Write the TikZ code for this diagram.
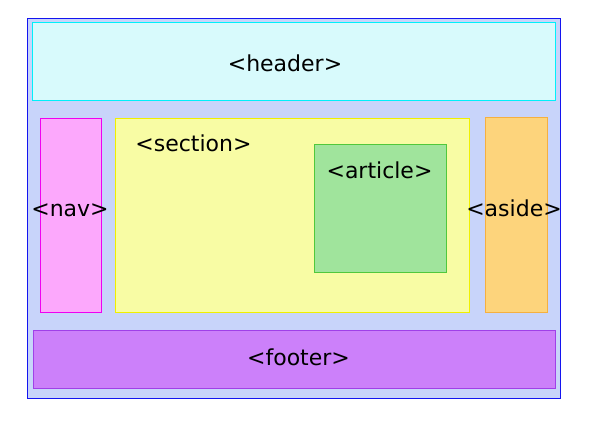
\documentclass[tikz,border=0pt]{standalone}
\usepackage{fontspec}
\setmainfont{DejaVu Sans}
\definecolor{outerfill}{RGB}{200,212,250}
\definecolor{outerline}{RGB}{20,20,240}
\definecolor{headfill}{RGB}{216,250,252}
\definecolor{headline}{RGB}{0,240,250}
\definecolor{navfill}{RGB}{252,168,252}
\definecolor{navline}{RGB}{240,0,240}
\definecolor{secfill}{RGB}{248,252,164}
\definecolor{secline}{RGB}{240,240,0}
\definecolor{artfill}{RGB}{160,228,156}
\definecolor{artline}{RGB}{80,200,60}
\definecolor{asidefill}{RGB}{253,212,124}
\definecolor{asideline}{RGB}{245,176,64}
\definecolor{footfill}{RGB}{204,128,250}
\definecolor{footline}{RGB}{160,64,232}
\tikzset{
  blk/.style={line width=1pt},
  lbl/.style={font=\fontsize{22}{26}\selectfont, anchor=base, inner sep=0pt}
}
\begin{document}
\begin{tikzpicture}[x=1pt,y=-1pt]
\useasboundingbox (0,0) rectangle (590,421);
\fill[white] (0,0) rectangle (590,421);
\draw[blk, fill=outerfill, draw=outerline] (27.5,18.5) rectangle (560.5,398.5);
\draw[blk, fill=headfill, draw=headline] (32.5,22.5) rectangle (555.5,100.5);
\draw[blk, fill=navfill, draw=navline] (40.5,118.5) rectangle (101.5,312.5);
\draw[blk, fill=secfill, draw=secline] (115.5,118.5) rectangle (469.5,312.5);
\draw[blk, fill=artfill, draw=artline] (314.5,144.5) rectangle (446,272.5);
\draw[blk, fill=asidefill, draw=asideline] (485.5,117.5) rectangle (547.5,312.5);
\draw[blk, fill=footfill, draw=footline] (33.5,330.5) rectangle (555.5,388.5);
\node[lbl] (header) at (285,71.7) {<header>};
\node[lbl] (nav) at (70,216.7) {<nav>};
\node[lbl] (section) at (193.5,151.7) {<section>};
\node[lbl] (article) at (379.5,178.3) {<article>};
\node[lbl] (aside) at (514,216.7) {<aside>};
\node[lbl] (footer) at (298.5,365) {<footer>};
\end{tikzpicture}
\end{document}
